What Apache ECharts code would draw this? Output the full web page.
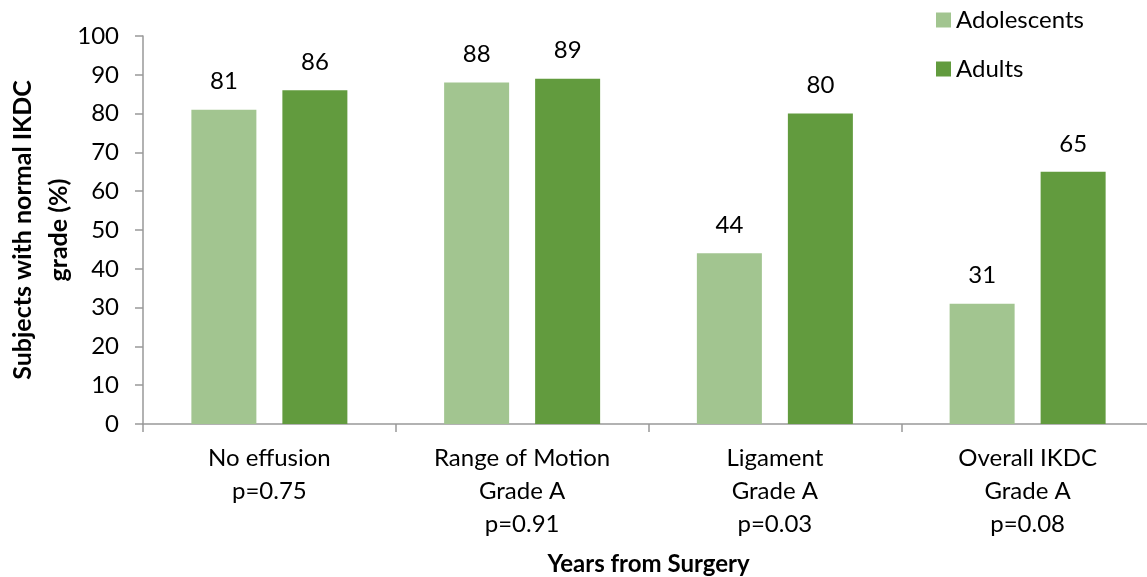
<!DOCTYPE html>
<html>
<head>
<meta charset="utf-8">
<script src="https://cdn.jsdelivr.net/npm/echarts@6/dist/echarts.min.js"></script>
<style>
html,body{margin:0;padding:0;background:#fff;}
#chart{width:1147px;height:577px;}
</style>
</head>
<body>
<div id="chart"></div>
<script>
const categories = ['No effusion\np=0.75', 'Range of Motion\nGrade A\np=0.91', 'Ligament\nGrade A\np=0.03', 'Overall IKDC\nGrade A\np=0.08'];
const adolescents = [81, 88, 44, 31];
const adults = [86, 89, 80, 65];
const seriesNames = ['Adolescents', 'Adults'];
const yTicks = {min: 0, max: 100, interval: 10};
const xTitle = 'Years from Surgery';
const yTitle = 'Subjects with normal IKDC\ngrade (%)';

const FONT = 'Lato';
const FS = 24;
const chart = echarts.init(document.getElementById('chart'));
const labelStyle = {show: true, position: 'top', distance: 16, color: '#000', fontSize: FS, fontFamily: FONT};
chart.setOption({
  animation: false,
  textStyle: {fontFamily: FONT},
  grid: {left: 143, top: 36, right: -7, bottom: 153, containLabel: false, outerBoundsMode: 'none'},
  legend: {
    orient: 'vertical', left: 931, top: 3, itemWidth: 15, itemHeight: 15, itemGap: 25,
    icon: 'rect',
    textStyle: {fontSize: FS, color: '#000', fontFamily: FONT, padding: [0, 0, 0, 0]},
    data: seriesNames
  },
  xAxis: {
    type: 'category', data: categories,
    name: xTitle, nameLocation: 'middle', nameGap: 128, nameMoveOverlap: false,
    nameTextStyle: {fontSize: 24, fontWeight: 'bold', color: '#000', fontFamily: FONT},
    axisLine: {lineStyle: {color: '#999', width: 1.5}},
    axisTick: {show: true, length: 8, alignWithLabel: false, lineStyle: {color: '#999', width: 1.5}},
    axisLabel: {fontSize: FS, color: '#000', lineHeight: 33, margin: 18, interval: 0, fontFamily: FONT}
  },
  yAxis: {
    type: 'value', min: yTicks.min, max: yTicks.max, interval: yTicks.interval,
    name: yTitle, nameLocation: 'middle', nameGap: 66, nameRotate: 90, nameMoveOverlap: false,
    nameTextStyle: {fontSize: 25, fontWeight: 'bold', color: '#000', lineHeight: 36, fontFamily: FONT},
    splitLine: {show: false},
    axisLine: {show: true, lineStyle: {color: '#999', width: 1.5}},
    axisTick: {show: true, length: 8, lineStyle: {color: '#999', width: 1.5}},
    axisLabel: {fontSize: FS, color: '#000', margin: 24, fontFamily: FONT}
  },
  series: [
    {name: seriesNames[0], type: 'bar', data: adolescents, barWidth: 65, barGap: '40%',
     itemStyle: {color: '#A2C590'}, label: labelStyle},
    {name: seriesNames[1], type: 'bar', data: adults, barWidth: 65, barGap: '40%',
     itemStyle: {color: '#629B3E'}, label: labelStyle}
  ]
});
</script>
</body>
</html>
